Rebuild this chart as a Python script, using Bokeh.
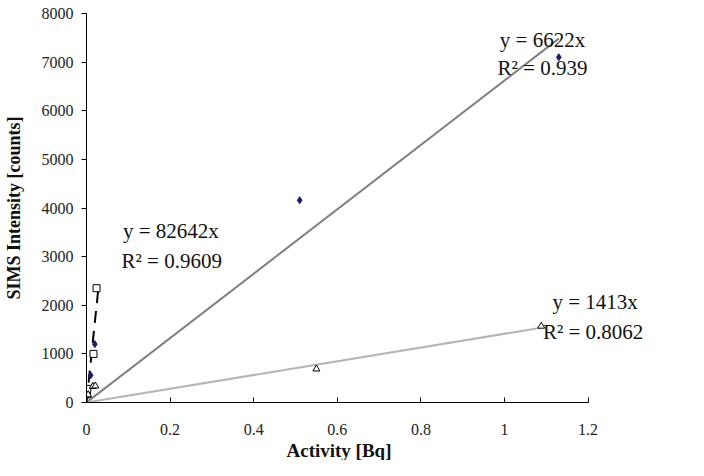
from bokeh.plotting import figure
from bokeh.models import Range1d, Label, FixedTicker, Title
from bokeh.embed import file_html
from bokeh.resources import INLINE

# Series data
diamond_x = [0.003, 0.010, 0.020, 0.51, 1.13]
diamond_y = [150, 560, 1200, 4160, 7100]
square_x = [0.001, 0.002, 0.0167, 0.024]
square_y = [170, 280, 1000, 2350]
triangle_x = [0.004, 0.015, 0.021, 0.55, 1.088]
triangle_y = [160, 330, 340, 690, 1570]

# Fit lines (slope through origin) and their extents
fit_diamond_slope = 6622
fit_diamond_xmax = 1.13
fit_square_slope = 82642
fit_square_xmax = 0.0285
fit_triangle_slope = 1413
fit_triangle_xmax = 1.088

x_ticks = [0, 0.2, 0.4, 0.6, 0.8, 1.0, 1.2]
y_ticks = [0, 1000, 2000, 3000, 4000, 5000, 6000, 7000, 8000]

FONT = "Liberation Serif"

p = figure(width=688, height=460, output_backend="svg", toolbar_location=None,
           x_range=Range1d(0, 1.402), y_range=Range1d(0, 8000),
           min_border_left=82, min_border_right=16, min_border_top=13, min_border_bottom=56)
p.outline_line_color = None
p.grid.visible = False

for ax in (p.xaxis[0], p.yaxis[0]):
    ax.axis_line_color = "black"
    ax.major_tick_line_color = "black"
    ax.minor_tick_line_color = None
    ax.major_label_text_font = FONT
    ax.major_label_text_font_size = "16px"
    ax.major_label_text_color = "#222222"
    ax.axis_label_text_font = FONT
    ax.axis_label_text_font_style = "bold"
    ax.axis_label_text_font_size = "18px"
    ax.axis_label_text_color = "#111111"

p.xaxis.bounds = (0, 1.2)
p.xaxis.ticker = FixedTicker(ticks=x_ticks)
p.yaxis.ticker = FixedTicker(ticks=y_ticks)
p.xaxis.major_label_overrides = {0: "0", 0.2: "0.2", 0.4: "0.4", 0.6: "0.6", 0.8: "0.8", 1.0: "1", 1.2: "1.2"}
p.xaxis.major_tick_in = 5
p.xaxis.major_tick_out = 0
p.xaxis.major_label_standoff = 21
p.yaxis.major_tick_in = 0
p.yaxis.major_tick_out = 5
p.yaxis.major_label_standoff = 8
p.yaxis.axis_label = "SIMS Intensity [counts]"
p.yaxis.axis_label_standoff = 15

# x-axis title centred on the 0..1.2 axis (not on the wider frame)
p.add_layout(Title(text="Activity [Bq]", align="left", offset=200,
                   text_font=FONT, text_font_style="bold", text_font_size="19px",
                   text_color="#111111", standoff=0), "below")

# Fit lines
p.line([0, fit_diamond_xmax], [0, fit_diamond_slope * fit_diamond_xmax], line_color="#7f7f7f", line_width=2)
p.line([0, fit_triangle_xmax], [0, fit_triangle_slope * fit_triangle_xmax], line_color="#b5b5b5", line_width=2)
p.line([0, fit_square_xmax], [0, fit_square_slope * fit_square_xmax], line_color="black", line_width=2, line_dash="12 8")

# Markers
p.scatter(diamond_x, diamond_y, marker="diamond", size=7, fill_color="#1c1c6b", line_color="#1c1c6b")
p.scatter(square_x, square_y, marker="square", size=7, fill_color="white", line_color="black", line_width=1)
p.scatter(triangle_x, triangle_y, marker="triangle", size=7, fill_color="white", line_color="black", line_width=1)

# Equation annotations
ann = [
    (1.091, 7460, "y = 6622x"),
    (1.091, 6880, "R\u00b2 = 0.939"),
    (0.202, 3520, "y = 82642x"),
    (0.204, 2900, "R\u00b2 = 0.9609"),
    (1.217, 2070, "y = 1413x"),
    (1.212, 1450, "R\u00b2 = 0.8062"),
]
for x, y, t in ann:
    p.add_layout(Label(x=x, y=y, text=t, text_font=FONT, text_font_size="21px",
                       text_align="center", text_baseline="middle", text_color="#111111"))

open("out.html", "w").write(file_html(p, INLINE))
